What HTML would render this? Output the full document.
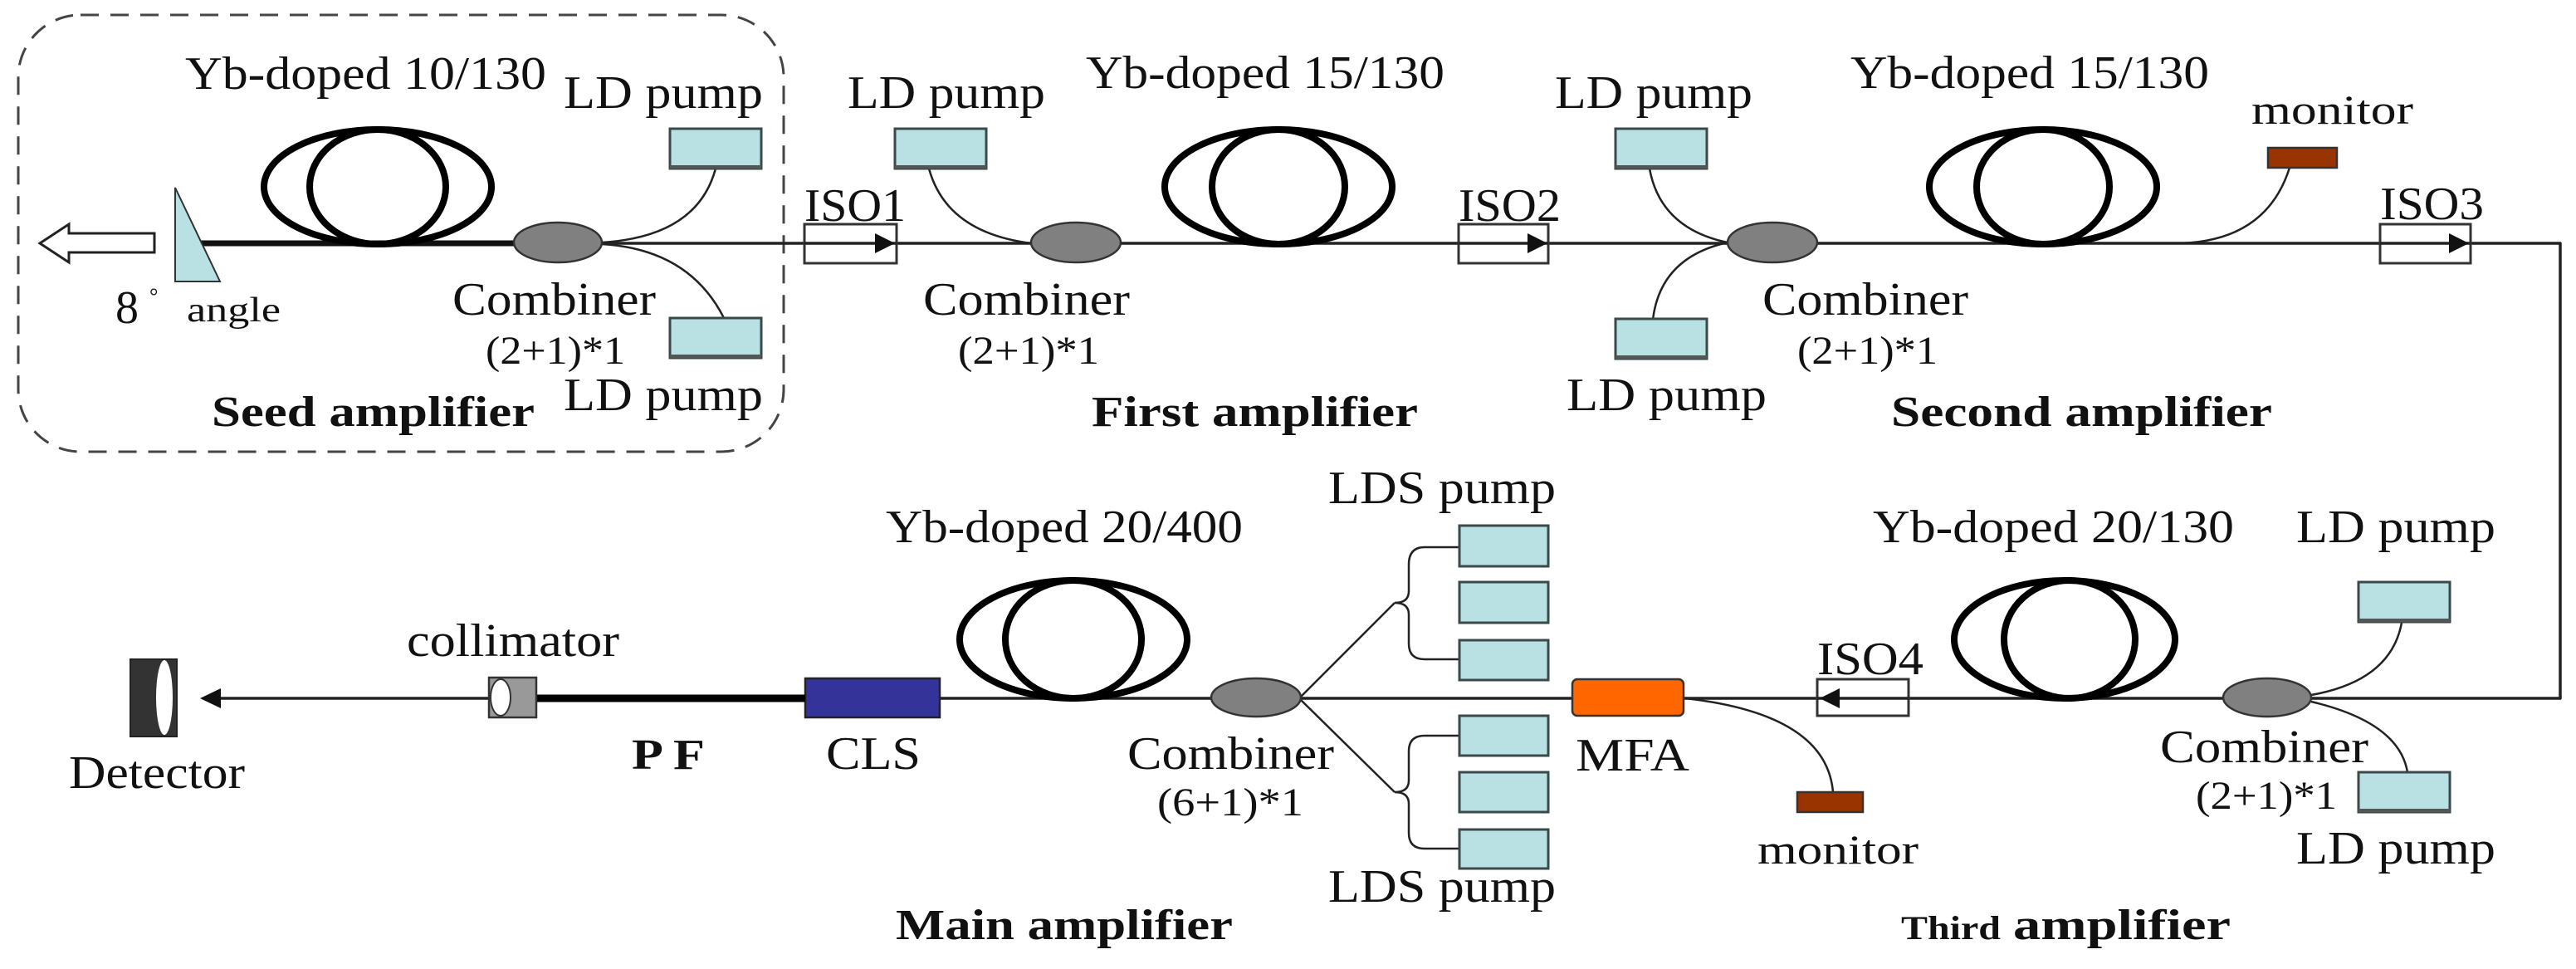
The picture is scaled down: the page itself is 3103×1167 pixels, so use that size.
<!DOCTYPE html>
<html><head><meta charset="utf-8"><style>
html,body{margin:0;padding:0;background:#fff;}
svg{display:block;}
text{font-family:"Liberation Serif",serif;fill:#111;}
.b{font-weight:bold;}
</style></head><body>
<svg width="3103" height="1167" viewBox="0 0 3103 1167" xmlns="http://www.w3.org/2000/svg">
<defs>
<g id="pump"><rect x="0" y="0" width="110" height="48" fill="#b9e0e2" stroke="#3a4a4a" stroke-width="3"/><line x1="0" y1="46" x2="110" y2="46" stroke="#555" stroke-width="4"/></g>
</defs>
<!-- seed dashed box -->
<rect x="22" y="18" width="922" height="526" rx="75" ry="75" fill="none" stroke="#444" stroke-width="3" stroke-dasharray="22,14"/>

<!-- main upper line -->
<line x1="725" y1="293" x2="3085" y2="293" stroke="#222" stroke-width="3.5"/>
<line x1="3084" y1="292" x2="3084" y2="842" stroke="#222" stroke-width="3.5"/>
<line x1="255" y1="841" x2="3085" y2="841" stroke="#222" stroke-width="3.5"/>
<!-- seed thick fiber -->
<line x1="240" y1="293" x2="625" y2="293" stroke="#111" stroke-width="7"/>

<!-- hollow arrow -->
<polygon points="48,293 83,270 83,281 186,281 186,304 83,304 83,316" fill="#fff" stroke="#222" stroke-width="3"/>
<!-- wedge -->
<polygon points="211,226 265,339 211,339" fill="#b9e0e2" stroke="#333" stroke-width="2"/>

<!-- coils -->
<g fill="none" stroke="#000" stroke-width="8">
<ellipse cx="455" cy="225" rx="137" ry="69"/><ellipse cx="455" cy="225" rx="82" ry="69"/>
<ellipse cx="1540" cy="225" rx="137" ry="69"/><ellipse cx="1540" cy="225" rx="80" ry="69"/>
<ellipse cx="2461" cy="225" rx="137" ry="69"/><ellipse cx="2461" cy="225" rx="80" ry="69"/>
<ellipse cx="1293" cy="770" rx="137" ry="71"/><ellipse cx="1293" cy="770" rx="82" ry="71"/>
<ellipse cx="2487" cy="770" rx="133" ry="71"/><ellipse cx="2493" cy="770" rx="79" ry="71"/>
</g>

<!-- pump connectors -->
<g fill="none" stroke="#222" stroke-width="2.5">
<path d="M725,292 Q840,285 862,203"/>
<path d="M725,294 Q830,300 872,383"/>
<path d="M1119,203 Q1140,280 1242,293"/>
<path d="M1987,203 Q2000,275 2081,292"/>
<path d="M1991,385 Q2000,310 2081,292"/>
<path d="M2758,202 Q2730,290 2626,293"/>
<path d="M2784,837 Q2880,820 2893,750"/>
<path d="M2784,845 Q2890,870 2900,930"/>
<path d="M2030,841 Q2200,860 2208,954"/>
<!-- LDS brackets -->
<path d="M1566,840 L1680,726"/>
<path d="M1758,659 L1716,659 Q1697,659 1697,680 L1697,712 Q1697,726 1680,726 Q1697,726 1697,740 L1697,775 Q1697,794 1716,794 L1758,794"/>
<path d="M1566,842 L1680,954"/>
<path d="M1758,886 L1716,886 Q1697,886 1697,905 L1697,940 Q1697,954 1680,954 Q1697,954 1697,968 L1697,1003 Q1697,1022 1716,1022 L1758,1022"/>
</g>

<!-- pumps -->
<use href="#pump" x="807" y="155"/><use href="#pump" x="807" y="383"/>
<use href="#pump" x="1078" y="155"/>
<use href="#pump" x="1946" y="155"/><use href="#pump" x="1946" y="384"/>
<use href="#pump" x="2841" y="701" transform="translate(0,0)"/>
<use href="#pump" x="2841" y="930"/>
<g>
<rect x="1758" y="633" width="107" height="49" fill="#b9e0e2" stroke="#3a4a4a" stroke-width="3"/>
<rect x="1758" y="701" width="107" height="49" fill="#b9e0e2" stroke="#3a4a4a" stroke-width="3"/>
<rect x="1758" y="771" width="107" height="48" fill="#b9e0e2" stroke="#3a4a4a" stroke-width="3"/>
<rect x="1758" y="862" width="107" height="48" fill="#b9e0e2" stroke="#3a4a4a" stroke-width="3"/>
<rect x="1758" y="930" width="107" height="48" fill="#b9e0e2" stroke="#3a4a4a" stroke-width="3"/>
<rect x="1758" y="999" width="107" height="47" fill="#b9e0e2" stroke="#3a4a4a" stroke-width="3"/>
</g>

<!-- combiners -->
<g fill="#808080" stroke="#333" stroke-width="2.5">
<ellipse cx="672" cy="292" rx="53" ry="24"/>
<ellipse cx="1296" cy="292" rx="54" ry="24"/>
<ellipse cx="2135" cy="292" rx="54" ry="24"/>
<ellipse cx="1513" cy="840" rx="54" ry="23"/>
<ellipse cx="2731" cy="840" rx="53" ry="23"/>
</g>

<!-- isolators -->
<g fill="#fff" stroke="#333" stroke-width="3">
<rect x="969" y="270" width="111" height="47"/>
<rect x="1757" y="270" width="108" height="47"/>
<rect x="2867" y="270" width="109" height="47"/>
<rect x="2189" y="818" width="110" height="44"/>
</g>
<line x1="969" y1="293" x2="1080" y2="293" stroke="#222" stroke-width="3.5"/>
<line x1="1757" y1="293" x2="1865" y2="293" stroke="#222" stroke-width="3.5"/>
<line x1="2867" y1="293" x2="2976" y2="293" stroke="#222" stroke-width="3.5"/>
<line x1="2189" y1="841" x2="2299" y2="841" stroke="#222" stroke-width="3.5"/>
<g fill="#111">
<polygon points="1054,281 1078,293 1054,305"/>
<polygon points="1840,281 1864,293 1840,305"/>
<polygon points="2950,281 2974,293 2950,305"/>
<polygon points="2216,829 2192,841 2216,853"/>
</g>

<!-- monitors -->
<rect x="2732" y="178" width="83" height="24" fill="#993300" stroke="#333" stroke-width="2.5"/>
<rect x="2165" y="954" width="79" height="24" fill="#993300" stroke="#333" stroke-width="2.5"/>

<!-- MFA -->
<rect x="1894" y="818" width="134" height="44" rx="6" fill="#ff6600" stroke="#333" stroke-width="2.5"/>
<!-- CLS -->
<rect x="970" y="817" width="162" height="47" fill="#333399" stroke="#222" stroke-width="2.5"/>
<!-- PF thick -->
<line x1="646" y1="841" x2="970" y2="841" stroke="#000" stroke-width="9"/>
<!-- collimator -->
<rect x="589" y="816" width="57" height="48" fill="#999" stroke="#333" stroke-width="2.5"/>
<ellipse cx="603" cy="840" rx="12" ry="22" fill="#fff" stroke="#333" stroke-width="2"/>
<!-- arrow to detector -->
<polygon points="241,841 266,829 266,853" fill="#111"/>
<!-- detector -->
<rect x="157" y="794" width="56" height="93" fill="#333" stroke="#222" stroke-width="2"/>
<ellipse cx="198" cy="840" rx="10" ry="45" fill="#fff"/>

<!-- labels -->
<g font-size="56">
<text x="223" y="107" textLength="435" lengthAdjust="spacingAndGlyphs">Yb-doped 10/130</text>
<text x="679" y="130" textLength="240" lengthAdjust="spacingAndGlyphs">LD pump</text>
<text x="679" y="494" textLength="240" lengthAdjust="spacingAndGlyphs">LD pump</text>
<text x="139" y="389">8</text>
<text x="545" y="379" textLength="245" lengthAdjust="spacingAndGlyphs">Combiner</text>
<text x="585" y="438" font-size="48" textLength="168" lengthAdjust="spacingAndGlyphs">(2+1)*1</text>
<text x="969" y="266" textLength="122" lengthAdjust="spacingAndGlyphs">ISO1</text>
<text x="1021" y="130" textLength="238" lengthAdjust="spacingAndGlyphs">LD pump</text>
<text x="1308" y="106" textLength="432" lengthAdjust="spacingAndGlyphs">Yb-doped 15/130</text>
<text x="1112" y="379" textLength="249" lengthAdjust="spacingAndGlyphs">Combiner</text>
<text x="1154" y="438" font-size="48" textLength="170" lengthAdjust="spacingAndGlyphs">(2+1)*1</text>
<text x="1757" y="266" textLength="123" lengthAdjust="spacingAndGlyphs">ISO2</text>
<text x="1873" y="130" textLength="238" lengthAdjust="spacingAndGlyphs">LD pump</text>
<text x="1887" y="494" textLength="241" lengthAdjust="spacingAndGlyphs">LD pump</text>
<text x="2229" y="106" textLength="432" lengthAdjust="spacingAndGlyphs">Yb-doped 15/130</text>
<text x="2123" y="379" textLength="248" lengthAdjust="spacingAndGlyphs">Combiner</text>
<text x="2165" y="438" font-size="48" textLength="169" lengthAdjust="spacingAndGlyphs">(2+1)*1</text>
<text x="2712" y="149" font-size="50" textLength="195" lengthAdjust="spacingAndGlyphs">monitor</text>
<text x="2867" y="264" textLength="125" lengthAdjust="spacingAndGlyphs">ISO3</text>

<text x="1067" y="653" textLength="430" lengthAdjust="spacingAndGlyphs">Yb-doped 20/400</text>
<text x="1600" y="606" textLength="274" lengthAdjust="spacingAndGlyphs">LDS pump</text>
<text x="1600" y="1086" textLength="274" lengthAdjust="spacingAndGlyphs">LDS pump</text>
<text x="1358" y="926" textLength="249" lengthAdjust="spacingAndGlyphs">Combiner</text>
<text x="1394" y="982" font-size="48" textLength="176" lengthAdjust="spacingAndGlyphs">(6+1)*1</text>
<text x="1898" y="928" textLength="137" lengthAdjust="spacingAndGlyphs">MFA</text>
<text x="2117" y="1040" font-size="50" textLength="194" lengthAdjust="spacingAndGlyphs">monitor</text>
<text x="2189" y="812" textLength="128" lengthAdjust="spacingAndGlyphs">ISO4</text>
<text x="2256" y="653" textLength="435" lengthAdjust="spacingAndGlyphs">Yb-doped 20/130</text>
<text x="2766" y="653" textLength="240" lengthAdjust="spacingAndGlyphs">LD pump</text>
<text x="2602" y="918" textLength="251" lengthAdjust="spacingAndGlyphs">Combiner</text>
<text x="2645" y="974" font-size="48" textLength="170" lengthAdjust="spacingAndGlyphs">(2+1)*1</text>
<text x="2766" y="1040" textLength="240" lengthAdjust="spacingAndGlyphs">LD pump</text>
<text x="490" y="790" textLength="256" lengthAdjust="spacingAndGlyphs">collimator</text>
<text x="83" y="949" textLength="212" lengthAdjust="spacingAndGlyphs">Detector</text>
<text x="995" y="926" textLength="114" lengthAdjust="spacingAndGlyphs">CLS</text>
</g>
<text x="180" y="365" font-size="26">°</text>
<text x="225" y="387" font-size="42" textLength="113" lengthAdjust="spacingAndGlyphs">angle</text>
<g class="b" font-size="52">
<text class="b" x="255" y="513" textLength="389" lengthAdjust="spacingAndGlyphs">Seed amplifier</text>
<text class="b" x="1315" y="513" textLength="393" lengthAdjust="spacingAndGlyphs">First amplifier</text>
<text class="b" x="2278" y="513" textLength="459" lengthAdjust="spacingAndGlyphs">Second amplifier</text>
<text class="b" x="1079" y="1131" textLength="406" lengthAdjust="spacingAndGlyphs">Main amplifier</text>
<text class="b" x="761" y="926" textLength="88" lengthAdjust="spacingAndGlyphs">P F</text>
<text class="b" x="2290" y="1131" font-size="40" textLength="120" lengthAdjust="spacingAndGlyphs">Third</text>
<text class="b" x="2425" y="1131" textLength="262" lengthAdjust="spacingAndGlyphs">amplifier</text>
</g>
</svg>
</body></html>
